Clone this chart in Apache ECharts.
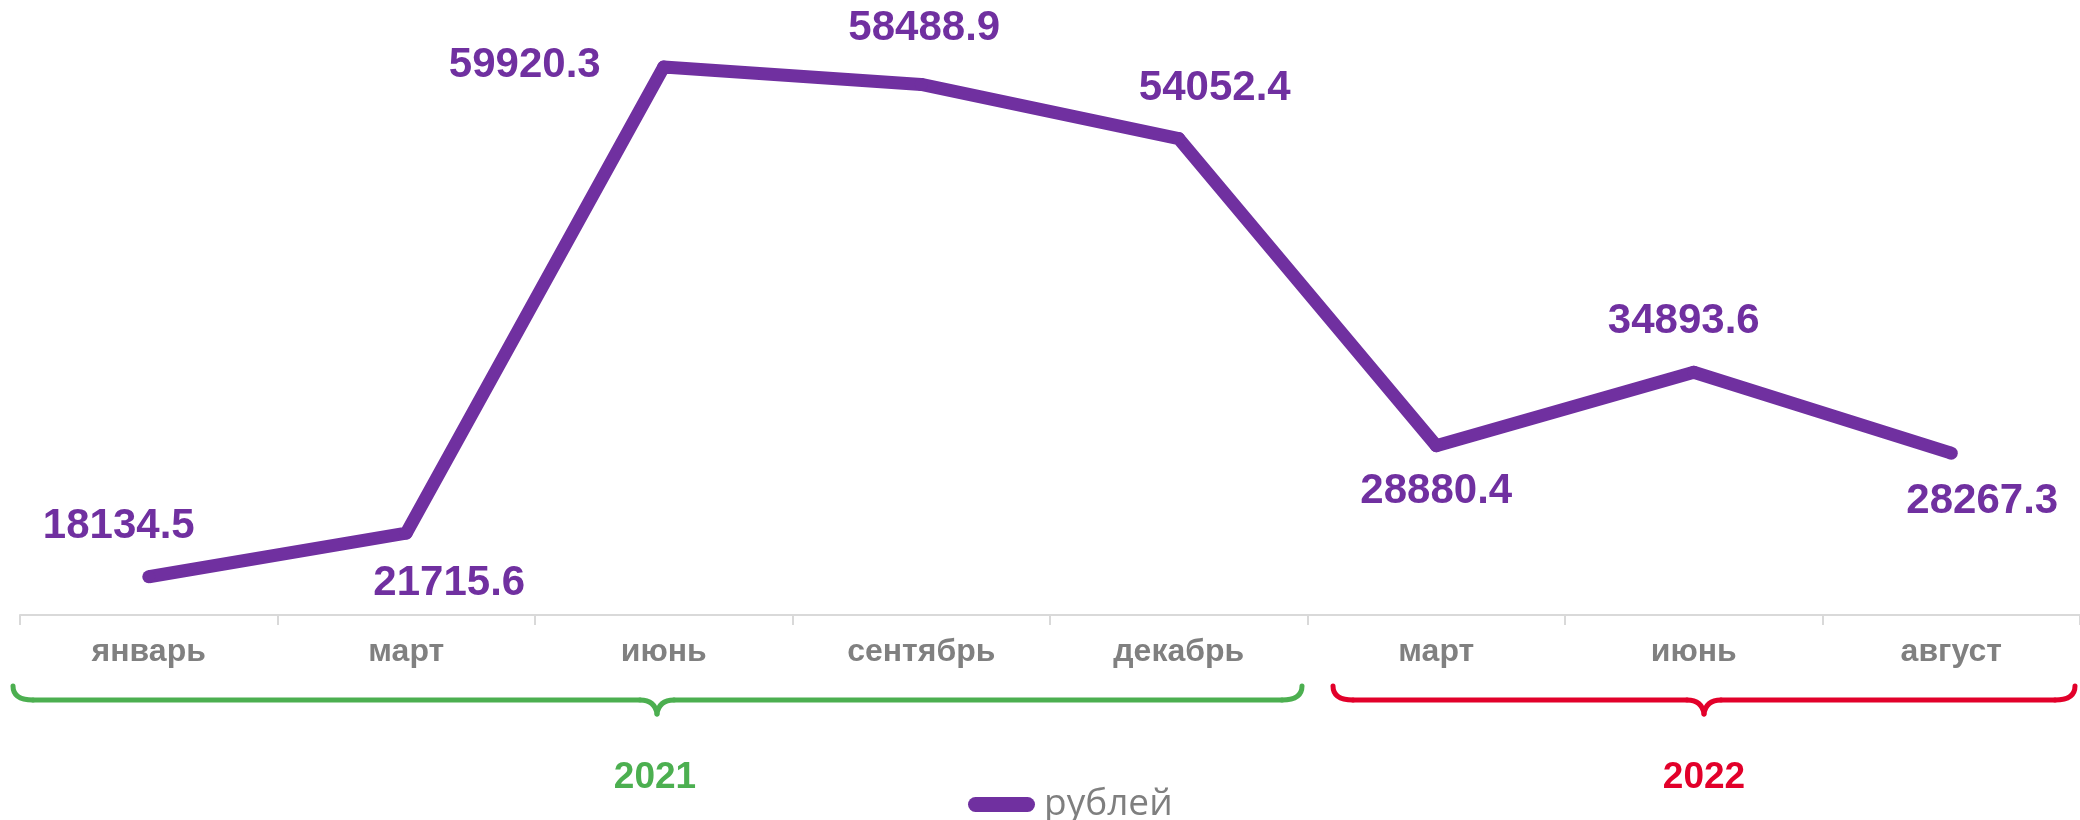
<!DOCTYPE html>
<html>
<head>
<meta charset="utf-8">
<script src="https://cdn.jsdelivr.net/npm/echarts@6/dist/echarts.min.js"></script>
<style>
  html, body { margin: 0; padding: 0; background: #fff; }
  #chart { width: 2080px; height: 820px; }
</style>
</head>
<body>
<div id="chart"></div>
<script>
// месяцы и значения
const months = ['январь', 'март', 'июнь', 'сентябрь', 'декабрь', 'март', 'июнь', 'август'];
const rubles = [18134.5, 21715.6, 59920.3, 58488.9, 54052.4, 28880.4, 34893.6, 28267.3];
const seriesName = 'рублей';
const years = ['2021', '2022'];

// смещения подписей относительно точек
const labelOffsets = [[-30, -50], [43, 50], [-139, -2], [3, -56], [36, -50], [0, 46], [-10, -51], [31, 48]];

const PURPLE = '#7030A0';
const GREEN = '#4CAF50';
const RED = '#E2002A';
const FONT = '"Liberation Sans", Arial, sans-serif';

const chart = echarts.init(document.getElementById('chart'));

// фигурная скобка под группой месяцев
function brace(x0, x1, xm, color) {
    const yTop = 686, yH = 700, yTip = 714, r = 20;
    const st = { stroke: color, lineWidth: 5, fill: null, lineCap: 'round' };
    return [
        { type: 'bezierCurve', shape: { x1: x0, y1: yTop, cpx1: x0, cpy1: yH, x2: x0 + r, y2: yH }, style: st, silent: true },
        { type: 'line', shape: { x1: x0 + r, y1: yH, x2: xm - 17, y2: yH }, style: st, silent: true },
        { type: 'bezierCurve', shape: { x1: xm - 17, y1: yH, cpx1: xm - 2, cpy1: yH, x2: xm, y2: yTip }, style: st, silent: true },
        { type: 'bezierCurve', shape: { x1: xm, y1: yTip, cpx1: xm + 2, cpy1: yH, x2: xm + 17, y2: yH }, style: st, silent: true },
        { type: 'line', shape: { x1: xm + 17, y1: yH, x2: x1 - r, y2: yH }, style: st, silent: true },
        { type: 'bezierCurve', shape: { x1: x1 - r, y1: yH, cpx1: x1, cpy1: yH, x2: x1, y2: yTop }, style: st, silent: true }
    ];
}

const yearText = (text, x, color) => ({
    type: 'text',
    x: x, y: 778,
    style: {
        text: text,
        fill: color,
        font: 'bold 37px ' + FONT,
        align: 'center',
        verticalAlign: 'middle'
    },
    silent: true
});

const option = {
    animation: false,
    backgroundColor: '#fff',
    grid: { left: 20, right: -6, top: 66, bottom: 205 },
    legend: {
        data: [seriesName],
        left: 963,
        top: 781,
        itemWidth: 67,
        itemHeight: 15,
        icon: 'path://M7.5,0 H59.5 A7.5,7.5 0 0 1 59.5,15 H7.5 A7.5,7.5 0 0 1 7.5,0 Z',
        itemStyle: { color: PURPLE },
        textStyle: {
            color: '#7f7f7f',
            fontFamily: '"Open Sans", sans-serif',
            fontSize: 37,
            padding: [0, 0, 0, 4]
        }
    },
    xAxis: {
        type: 'category',
        data: months,
        boundaryGap: true,
        axisLine: { show: true, lineStyle: { color: '#d9d9d9', width: 2 } },
        axisTick: { show: true, length: 10, lineStyle: { color: '#d9d9d9', width: 2 } },
        axisLabel: {
            interval: 0,
            margin: 21,
            color: '#808080',
            fontFamily: FONT,
            fontWeight: 'bold',
            fontSize: 32
        },
        splitLine: { show: false }
    },
    yAxis: {
        type: 'value',
        min: 15000,
        max: 60000,
        show: false,
        splitLine: { show: false }
    },
    series: [{
        name: seriesName,
        type: 'line',
        data: rubles.map((v, i) => ({
            value: v,
            label: { offset: labelOffsets[i] }
        })),
        symbol: 'circle',
        symbolSize: 13,
        itemStyle: { color: PURPLE },
        lineStyle: { color: PURPLE, width: 13, join: 'round' },
        label: {
            show: true,
            position: 'inside',
            color: PURPLE,
            fontFamily: FONT,
            fontWeight: 'bold',
            fontSize: 42,
            formatter: p => p.value.toFixed(1)
        }
    }],
    graphic: [
        ...brace(13, 1302, 657, GREEN),
        ...brace(1333, 2075, 1704, RED),
        yearText(years[0], 655, GREEN),
        yearText(years[1], 1704, RED)
    ]
};

chart.setOption(option);
</script>
</body>
</html>
